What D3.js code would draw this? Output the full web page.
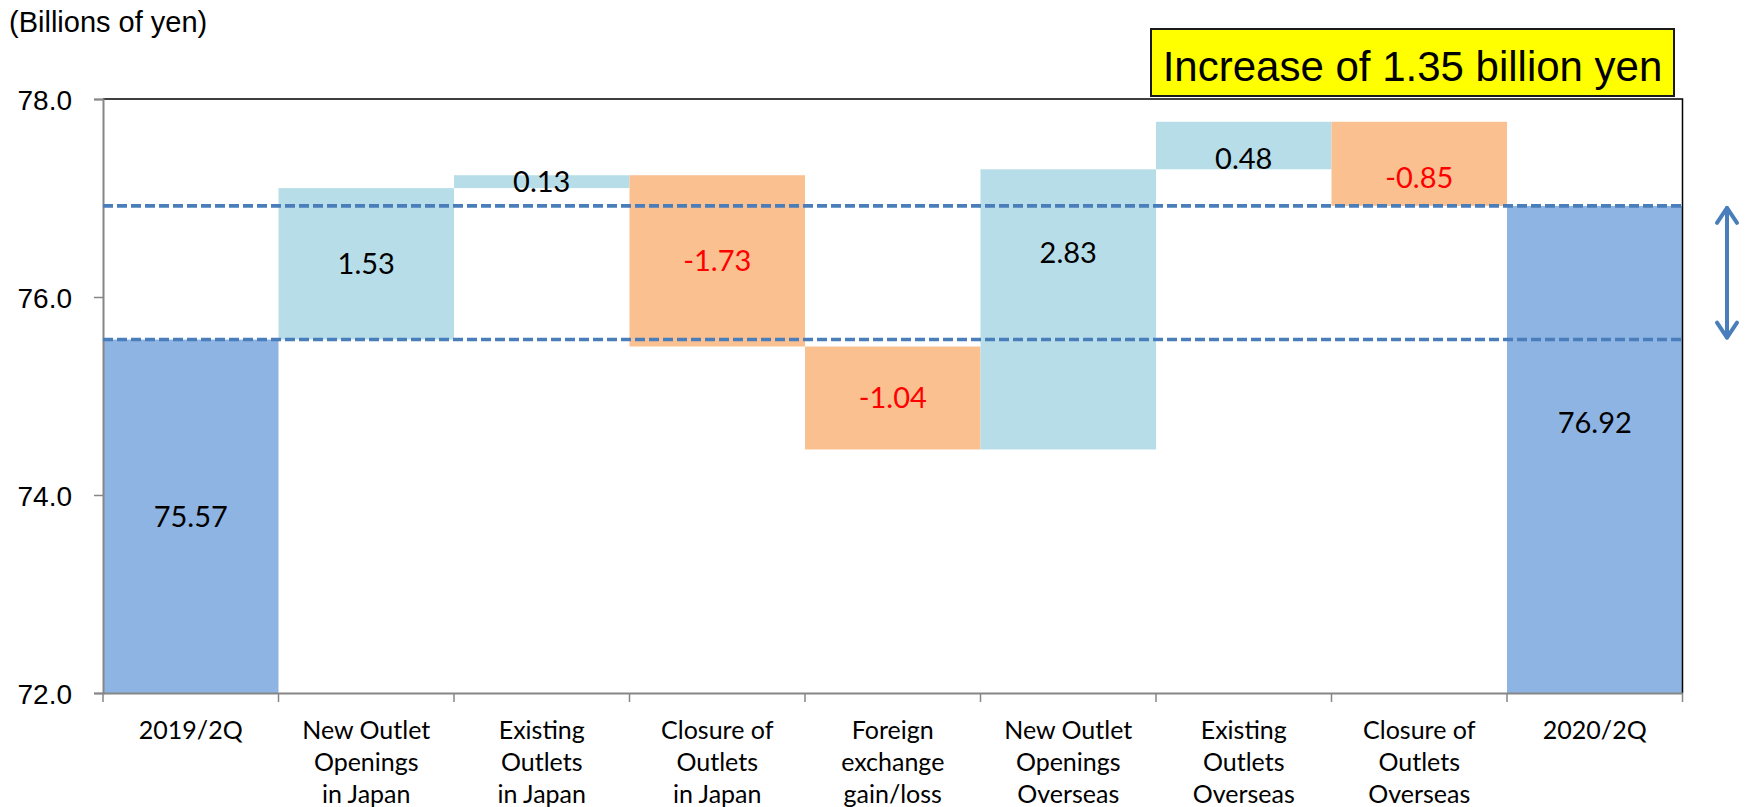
<!DOCTYPE html>
<html>
<head>
<meta charset="utf-8">
<script src="https://cdn.jsdelivr.net/npm/d3@7"></script>
<style>
  html, body { margin: 0; padding: 0; background: #fff; }
  svg { display: block; }
</style>
</head>
<body>
<svg id="chart" width="1746" height="807"></svg>
<script>
// ---- data ----
const categories = [
  ["2019/2Q"],
  ["New Outlet", "Openings", "in Japan"],
  ["Existing", "Outlets", "in Japan"],
  ["Closure of", "Outlets", "in Japan"],
  ["Foreign", "exchange", "gain/loss"],
  ["New Outlet", "Openings", "Overseas"],
  ["Existing", "Outlets", "Overseas"],
  ["Closure of", "Outlets", "Overseas"],
  ["2020/2Q"]
];
const values = [75.57, 1.53, 0.13, -1.73, -1.04, 2.83, 0.48, -0.85, 76.92];
const isTotal = [true, false, false, false, false, false, false, false, true];
const yTicks = [72, 74, 76, 78];
const yDomain = [72, 78];
const unitLabel = "(Billions of yen)";
const headline = "Increase of 1.35 billion yen";
// levels (axis units) where a few labels sit instead of the bar middle
const labelLevels = [null, null, null, null, null, 76.45, 77.40, 77.21, 74.73];

// ---- layout ----
const svg = d3.select("#chart");
const plotL = 103, plotR = 1682.5, plotT = 99, plotB = 693;

const keys = categories.map((c, i) => "c" + i);
const x = d3.scaleBand().domain(keys).range([plotL, plotR]).padding(0);
const y = d3.scaleLinear().domain(yDomain).range([plotB, plotT]);

// running totals for the floating bars
let run = 0;
const bars = values.map((v, i) => {
  let lo, hi;
  if (isTotal[i]) { lo = yDomain[0]; hi = v; run = v; }
  else { const s = run; run = s + v; lo = Math.min(s, run); hi = Math.max(s, run); }
  return { key: keys[i], v, lo, hi, total: isTotal[i] };
});

const colTotal = "#8eb4e3", colUp = "#b7dee8", colDown = "#fac090";
const lineBlue = "#4a7ebb", axisGray = "#868686";

// bars
svg.append("g").selectAll("rect").data(bars).join("rect")
  .attr("x", d => x(d.key))
  .attr("width", x.bandwidth())
  .attr("y", d => y(d.hi))
  .attr("height", d => y(d.lo) - y(d.hi))
  .attr("fill", d => d.total ? colTotal : (d.v >= 0 ? colUp : colDown));

// top and right frame of the plot area
svg.append("path")
  .attr("d", `M${plotL},${plotT}H${plotR}V${plotB}`)
  .attr("fill", "none").attr("stroke", "#000").attr("stroke-width", 1.5);

// y axis
const yAxis = svg.append("g")
  .attr("transform", `translate(${plotL},0)`)
  .call(d3.axisLeft(y).tickValues(yTicks).tickSize(9).tickPadding(0).tickFormat(d3.format(".1f")));
yAxis.select(".domain").attr("stroke", axisGray).attr("stroke-width", 2);
yAxis.selectAll(".tick line").attr("stroke", axisGray).attr("stroke-width", 1.5);
yAxis.selectAll(".tick text")
  .attr("x", -31)
  .attr("dy", "0.36em")
  .attr("fill", "#000")
  .style("font", "28px 'Liberation Sans', Arial, sans-serif");

// x axis
const xAxis = svg.append("g")
  .attr("transform", `translate(0,${plotB})`)
  .call(d3.axisBottom(x).tickSize(0).tickFormat(""));
xAxis.select(".domain").attr("stroke", axisGray).attr("stroke-width", 2);
const bounds = keys.map(k => x(k)).concat([plotR]);
xAxis.selectAll("line.sep").data(bounds).join("line")
  .attr("class", "sep")
  .attr("x1", d => d).attr("x2", d => d)
  .attr("y1", 0).attr("y2", 9)
  .attr("stroke", axisGray).attr("stroke-width", 1.5);

// category labels
const catG = svg.append("g")
  .style("font", "25px Lato, 'Open Sans', sans-serif")
  .attr("fill", "#000")
  .attr("text-anchor", "middle");
categories.forEach((lines, i) => {
  const cx = x(keys[i]) + x.bandwidth() / 2;
  const t = catG.append("text").attr("x", cx).attr("y", 739);
  lines.forEach((ln, j) => {
    t.append("tspan")
      .attr("x", cx)
      .attr("dy", j === 0 ? 0 : 32)
      .text(ln);
  });
});

// dashed reference lines at the opening and closing totals
const refLevels = [values[0], values[values.length - 1]];
svg.append("g").selectAll("line").data(refLevels).join("line")
  .attr("x1", plotL).attr("x2", plotR)
  .attr("y1", d => y(d)).attr("y2", d => y(d))
  .attr("stroke", lineBlue).attr("stroke-width", 3.6)
  .attr("stroke-dasharray", "10,4");

// value labels (plain hyphen for negatives)
const fmt = d3.formatLocale({ decimal: ".", thousands: ",", grouping: [3], currency: ["", ""], minus: "-" }).format(".2f");
svg.append("g").selectAll("text").data(bars).join("text")
  .attr("x", d => x(d.key) + x.bandwidth() / 2)
  .attr("y", (d, i) => y(labelLevels[i] != null ? labelLevels[i] : (d.lo + d.hi) / 2))
  .attr("dy", "0.36em")
  .attr("text-anchor", "middle")
  .attr("fill", d => d.v < 0 ? "#ff0000" : "#000")
  .style("font", "29px Lato, 'Open Sans', sans-serif")
  .text(d => fmt(d.v));

// double-headed arrow showing the change between the two totals
const ax = 1727;
const yA = y(refLevels[1]), yB = y(refLevels[0]);
const arrow = svg.append("g")
  .attr("stroke", lineBlue).attr("stroke-width", 4)
  .attr("fill", "none").attr("stroke-linecap", "round").attr("stroke-linejoin", "round");
arrow.append("line").attr("x1", ax).attr("x2", ax).attr("y1", yA + 2).attr("y2", yB - 2);
arrow.append("path").attr("d", `M${ax - 10},${yA + 17}L${ax},${yA + 2}L${ax + 10},${yA + 17}`);
arrow.append("path").attr("d", `M${ax - 10},${yB - 17}L${ax},${yB - 2}L${ax + 10},${yB - 17}`);

// unit label
svg.append("text")
  .attr("x", 9).attr("y", 32)
  .style("font", "29px 'Liberation Sans', Arial, sans-serif")
  .attr("fill", "#000")
  .text(unitLabel);

// headline box
const boxX = 1151, boxY = 29, boxW = 523, boxH = 67;
svg.append("rect")
  .attr("x", boxX).attr("y", boxY).attr("width", boxW).attr("height", boxH)
  .attr("fill", "#ffff00").attr("stroke", "#1a1a1a").attr("stroke-width", 2);
svg.append("text")
  .attr("x", boxX + boxW / 2).attr("y", 81)
  .attr("text-anchor", "middle")
  .style("font", "42px 'Liberation Sans', Arial, sans-serif")
  .attr("fill", "#000")
  .text(headline);
</script>
</body>
</html>
